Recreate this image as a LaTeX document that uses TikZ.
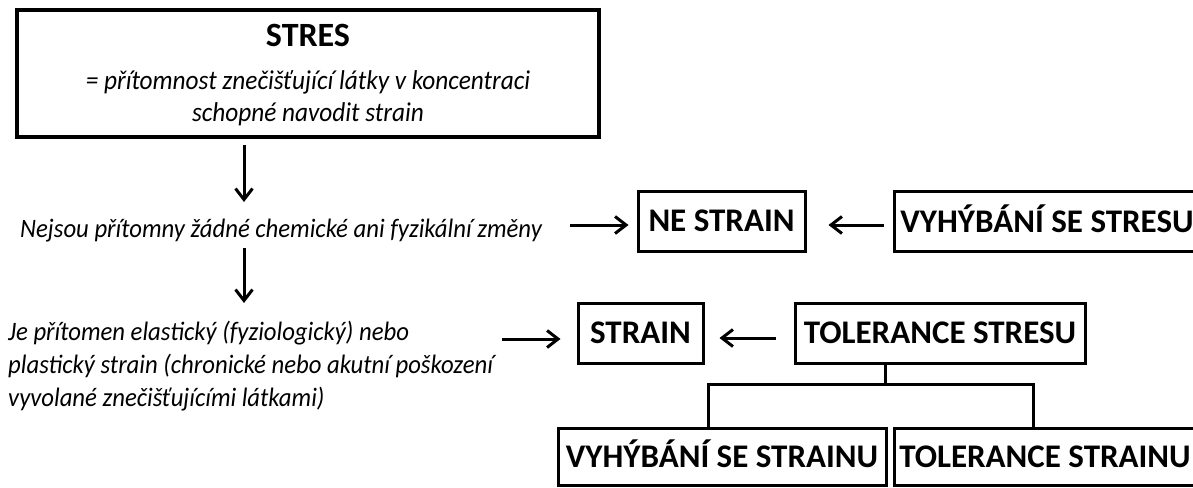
\documentclass[tikz,border=0pt]{standalone}
\usepackage{fontspec}
\setmainfont{Carlito}[ItalicFeatures={FakeStretch=0.93}]
\usetikzlibrary{arrows.meta}
\begin{document}
\begin{tikzpicture}[x=1pt,y=-1pt,
  box/.style={draw, line width=3pt, inner sep=0pt, text height=21pt, text depth=0pt,
    font=\bfseries\fontsize{33}{38}\selectfont},
  itext/.style={font=\itshape\fontsize{26.6}{33}\selectfont, inner sep=0pt},
  arr/.style={line width=3pt, -{Straight Barb[length=11pt,width=17pt,line width=3pt]}},
  conn/.style={line width=3pt}]
\useasboundingbox (0,0) rectangle (1193,487);
\fill[white] (0,0) rectangle (1193,487);
% top box
\node[box, line width=4pt, minimum width=582pt, minimum height=127pt, text height=0pt] (stres) at (308,73.5) {};
\node[anchor=base, inner sep=0pt, font=\bfseries\fontsize{34}{38}\selectfont] (stresT) at (308,47) {STRES};
\node[anchor=base, itext, font=\itshape\fontsize{27.2}{33}\selectfont] (stresA) at (308,89) {= přítomnost znečišťující látky v koncentraci};
\node[anchor=base, itext, font=\itshape\fontsize{27.2}{33}\selectfont] (stresB) at (308,121) {schopné navodit strain};
% texts
\node[anchor=base west, itext] (t1) at (20,237) {Nejsou přítomny žádné chemické ani fyzikální změny};
\node[anchor=west, itext, align=left] (t2) at (8,366) {Je přítomen elastický (fyziologický) nebo\\plastický strain (chronické nebo akutní poškození\\vyvolané znečišťujícími látkami)};
% boxes
\node[box, minimum width=167pt, minimum height=60pt] (ne) at (721.5,221) {NE STRAIN};
\node[box, minimum width=306pt, minimum height=60pt] (vs) at (1047,221.5) {VYHÝBÁNÍ SE STRESU};
\node[box, minimum width=125pt, minimum height=60pt] (st) at (640.5,333) {STRAIN};
\node[box, minimum width=290pt, minimum height=60pt] (ts) at (940,333) {TOLERANCE STRESU};
\node[box, minimum width=328pt, minimum height=57pt] (vsn) at (722,457) {VYHÝBÁNÍ SE STRAINU};
\node[box, minimum width=302pt, minimum height=57pt] (tsn) at (1045,457) {TOLERANCE STRAINU};
% coordinates for free ends
\coordinate (a1s) at (244,145); \coordinate (a1e) at (244,202);
\coordinate (a2s) at (244,248); \coordinate (a2e) at (244,303);
\coordinate (aNs) at (570,225);
\coordinate (aSs) at (502,339);
% arrows
\draw[arr] (a1s) -- (a1e);
\draw[arr] (a2s) -- (a2e);
\draw[arr] (aNs) -- ([xshift=-8pt]ne.west |- aNs);
\draw[arr] ([xshift=-9pt]vs.west |- aNs) -- ([xshift=22pt]ne.east |- aNs);
\draw[arr] (aSs) -- ([xshift=-16pt]st.west |- aSs);
\draw[arr] ([xshift=-18pt]ts.west |- 0,338) -- ([xshift=15pt]st.east |- 0,338);
% tree
\coordinate (bar) at (885,384);
\draw[conn] (ts.south -| bar) -- (bar);
\draw[conn] (vsn.north -| 708,0) |- (1033,384) -- (tsn.north -| 1033,0);
\end{tikzpicture}
\end{document}
